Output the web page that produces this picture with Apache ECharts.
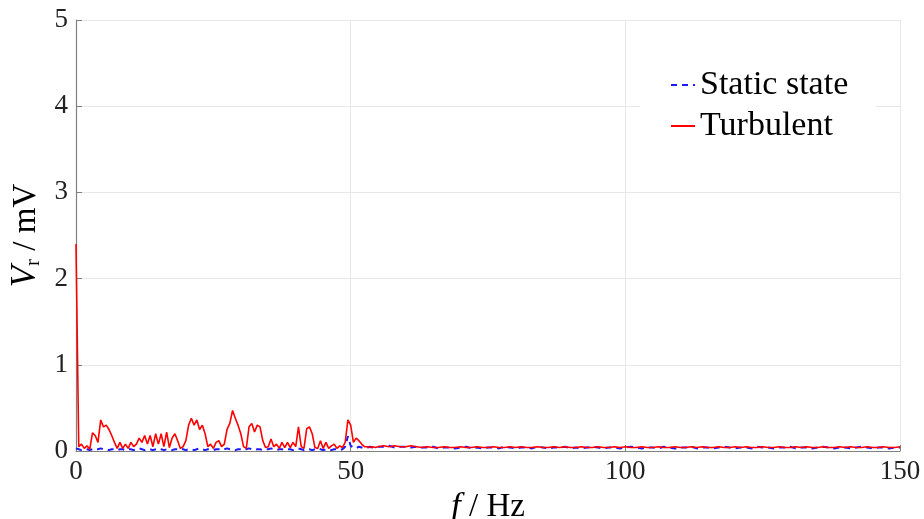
<!DOCTYPE html>
<html>
<head>
<meta charset="utf-8">
<script src="https://cdn.jsdelivr.net/npm/echarts@6/dist/echarts.min.js"></script>
<style>
  html, body { margin: 0; padding: 0; background: #fff; }
  #main { width: 924px; height: 519px; }
</style>
</head>
<body>
<div id="main"></div>
<script>
// 0 - 55 Hz, 0.5 Hz bins
var lowStep = 0.5
var turbLow = [
  2.40, 0.05, 0.08, 0.03, 0.06, 0.02, 0.21, 0.18, 0.10, 0.36,
  0.28, 0.30, 0.25, 0.18, 0.10, 0.03, 0.10, 0.03, 0.08, 0.03,
  0.10, 0.05, 0.08, 0.15, 0.10, 0.18, 0.08, 0.18, 0.05, 0.20,
  0.08, 0.20, 0.05, 0.22, 0.04, 0.15, 0.20, 0.12, 0.03, 0.05,
  0.12, 0.30, 0.38, 0.30, 0.36, 0.25, 0.30, 0.20, 0.05, 0.08,
  0.03, 0.10, 0.12, 0.05, 0.08, 0.25, 0.32, 0.47, 0.38, 0.30,
  0.20, 0.05, 0.03, 0.28, 0.32, 0.22, 0.30, 0.28, 0.12, 0.04,
  0.05, 0.14, 0.05, 0.08, 0.03, 0.10, 0.04, 0.10, 0.04, 0.10,
  0.05, 0.28, 0.05, 0.03, 0.26, 0.28, 0.20, 0.04, 0.03, 0.12,
  0.03, 0.10, 0.03, 0.06, 0.08, 0.03, 0.06, 0.04, 0.10, 0.36,
  0.30, 0.10, 0.15, 0.12, 0.08, 0.05, 0.05, 0.04, 0.05, 0.04,
  0.05
]
var staticLow = [
  0.03, 0.02, 0.01, 0.02, 0.02, 0.01, 0.02, 0.03, 0.02, 0.03,
  0.02, 0.02, 0.01, 0.02, 0.02, 0.01, 0.02, 0.02, 0.01, 0.02,
  0.02, 0.01, 0.02, 0.03, 0.02, 0.01, 0.02, 0.02, 0.01, 0.02,
  0.03, 0.02, 0.01, 0.02, 0.02, 0.01, 0.02, 0.02, 0.03, 0.02,
  0.01, 0.02, 0.02, 0.01, 0.02, 0.03, 0.02, 0.01, 0.02, 0.02,
  0.01, 0.02, 0.02, 0.01, 0.02, 0.03, 0.02, 0.02, 0.01, 0.02,
  0.02, 0.01, 0.02, 0.03, 0.02, 0.01, 0.02, 0.02, 0.01, 0.02,
  0.02, 0.03, 0.02, 0.01, 0.02, 0.02, 0.01, 0.02, 0.02, 0.01,
  0.02, 0.03, 0.02, 0.01, 0.02, 0.02, 0.01, 0.02, 0.03, 0.02,
  0.01, 0.02, 0.02, 0.01, 0.02, 0.02, 0.01, 0.02, 0.05, 0.17,
  0.06, 0.04, 0.03, 0.05, 0.04, 0.03, 0.04, 0.05, 0.04, 0.04,
  0.05
]
// 56 - 150 Hz, 1 Hz bins
var highStart = 56
var turbHigh = [
  0.06, 0.05, 0.06, 0.05, 0.05, 0.06, 0.05, 0.04, 0.05, 0.04,
  0.04, 0.05, 0.04, 0.04, 0.05, 0.04, 0.04, 0.05, 0.04, 0.04,
  0.05, 0.04, 0.04, 0.05, 0.04, 0.05, 0.04, 0.04, 0.05, 0.04,
  0.04, 0.05, 0.04, 0.05, 0.04, 0.04, 0.05, 0.04, 0.04, 0.05,
  0.04, 0.04, 0.05, 0.04, 0.05, 0.04, 0.04, 0.05, 0.04, 0.04,
  0.05, 0.04, 0.04, 0.05, 0.04, 0.04, 0.05, 0.04, 0.05, 0.04,
  0.04, 0.05, 0.04, 0.04, 0.05, 0.04, 0.05, 0.04, 0.04, 0.05,
  0.04, 0.04, 0.05, 0.04, 0.04, 0.05, 0.04, 0.05, 0.04, 0.04,
  0.05, 0.04, 0.04, 0.05, 0.04, 0.05, 0.04, 0.04, 0.05, 0.04,
  0.04, 0.05, 0.04, 0.04, 0.05
]
var staticHigh = [
  0.05, 0.06, 0.04, 0.05, 0.05, 0.04, 0.05, 0.04, 0.04, 0.05,
  0.03, 0.04, 0.04, 0.03, 0.04, 0.05, 0.03, 0.04, 0.03, 0.04,
  0.04, 0.03, 0.05, 0.04, 0.03, 0.04, 0.04, 0.03, 0.05, 0.04,
  0.03, 0.04, 0.04, 0.05, 0.03, 0.04, 0.03, 0.04, 0.05, 0.04,
  0.03, 0.04, 0.04, 0.03, 0.04, 0.05, 0.04, 0.03, 0.04, 0.04,
  0.03, 0.05, 0.04, 0.03, 0.04, 0.04, 0.05, 0.03, 0.04, 0.04,
  0.03, 0.04, 0.05, 0.04, 0.03, 0.04, 0.04, 0.03, 0.05, 0.04,
  0.04, 0.03, 0.04, 0.04, 0.05, 0.03, 0.04, 0.04, 0.03, 0.04,
  0.05, 0.04, 0.03, 0.04, 0.04, 0.03, 0.04, 0.05, 0.04, 0.03,
  0.04, 0.04, 0.03, 0.04, 0.04
]

function pairs(low, high) {
  var out = []
  low.forEach(function (v, i) { out.push([i * lowStep, v]) })
  high.forEach(function (v, i) { out.push([highStart + i, v]) })
  return out
}

var serif = 'Liberation Serif'
var myChart = echarts.init(document.getElementById('main'))
myChart.setOption({
  animation: false,
  backgroundColor: '#fff',
  grid: { left: 76, right: 24, top: 20, bottom: 68, outerBoundsMode: 'none' },
  legend: {
    left: 640,
    top: 56,
    orient: 'vertical',
    backgroundColor: '#fff',
    padding: [12, 28, 12, 30],
    itemGap: 7,
    itemWidth: 24,
    itemHeight: 10,
    itemStyle: { opacity: 0 },
    textStyle: { fontFamily: serif, fontSize: 34, color: '#000' },
    data: ['Static state', 'Turbulent']
  },
  xAxis: {
    type: 'value',
    min: 0, max: 150, interval: 50,
    name: '{i|f}{n| / Hz}',
    nameLocation: 'middle',
    nameGap: 27,
    nameTextStyle: {
      rich: {
        i: { fontFamily: serif, fontSize: 35, fontStyle: 'italic', color: '#000' },
        n: { fontFamily: serif, fontSize: 33, color: '#000' }
      }
    },
    axisLine: { show: true, onZero: false, lineStyle: { color: '#808080', width: 1.2 } },
    axisTick: { inside: true, length: 6, lineStyle: { color: '#808080' } },
    axisLabel: { fontFamily: serif, fontSize: 27, color: '#222', margin: 7 },
    splitLine: { show: true, lineStyle: { color: '#e8e8e8', width: 1 } }
  },
  yAxis: {
    type: 'value',
    min: 0, max: 5, interval: 1,
    name: '{i|V}{s|r}{n| / mV}',
    nameLocation: 'middle',
    nameRotate: 90,
    nameGap: 25,
    nameTextStyle: {
      rich: {
        i: { fontFamily: serif, fontSize: 35, fontStyle: 'italic', color: '#000' },
        s: { fontFamily: serif, fontSize: 21, color: '#000', verticalAlign: 'bottom', padding: [12, 0, 0, 0] },
        n: { fontFamily: serif, fontSize: 33, color: '#000' }
      }
    },
    axisLine: { show: true, lineStyle: { color: '#808080', width: 1.2 } },
    axisTick: { show: true, inside: true, length: 6, lineStyle: { color: '#808080' } },
    axisLabel: { fontFamily: serif, fontSize: 27, color: '#222', margin: 8 },
    splitLine: { show: true, lineStyle: { color: '#e8e8e8', width: 1 } }
  },
  series: [
    {
      name: 'Static state',
      type: 'line',
      symbol: 'none',
      data: pairs(staticLow, staticHigh),
      lineStyle: { color: '#1a1aff', width: 2, type: [6, 5] },
      itemStyle: { color: '#1a1aff' },
      z: 2
    },
    {
      name: 'Turbulent',
      type: 'line',
      symbol: 'none',
      data: pairs(turbLow, turbHigh),
      lineStyle: { color: '#ff0000', width: 1.6 },
      itemStyle: { color: '#ff0000' },
      z: 3
    }
  ]
})
</script>
</body>
</html>
